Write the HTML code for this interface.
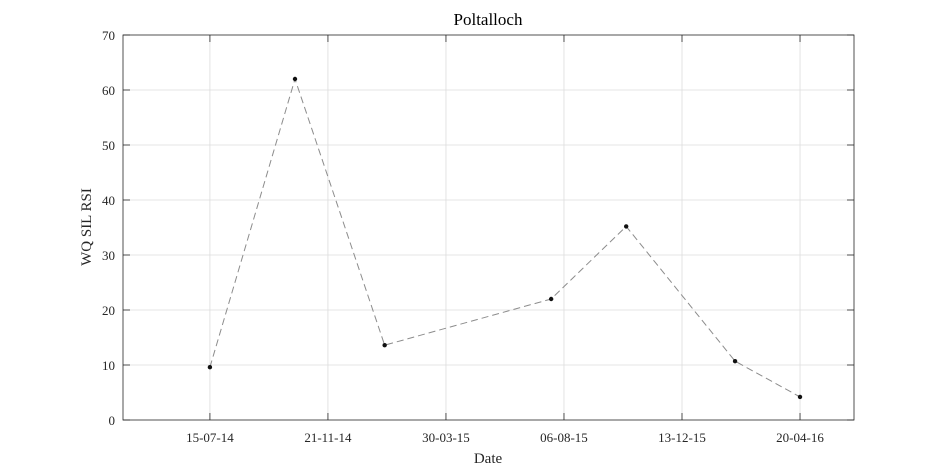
<!DOCTYPE html>
<html><head><meta charset="utf-8"><style>
html,body{margin:0;padding:0;background:#fff;}
svg{display:block;font-family:"Liberation Serif",serif;}
</style></head><body>
<svg id="chart" width="945" height="472">
<rect x="0" y="0" width="945" height="472" fill="#fff"/>
<g id="grid"></g>
<rect x="123" y="35" width="731" height="385" fill="none" stroke="#262626" stroke-width="0.8"/>
<g id="ticks"></g>
<g id="series"></g>
<text x="488" y="25" text-anchor="middle" font-size="17" fill="#000">Poltalloch</text>
<text x="488" y="463" text-anchor="middle" font-size="15" fill="#262626">Date</text>
<text transform="translate(91,227) rotate(-90)" text-anchor="middle" font-size="15" fill="#262626">WQ SIL RSI</text>
</svg>
<script>
const xTickDays = [0, 129, 258, 387, 516, 645];
const xTickLabels = ["15-07-14", "21-11-14", "30-03-15", "06-08-15", "13-12-15", "20-04-16"];
const yTicks = [0, 10, 20, 30, 40, 50, 60, 70];
const pointDays = [0, 93, 191, 373, 455, 574, 645];
const pointValues = [9.6, 62, 13.6, 22, 35.2, 10.7, 4.2];

const L = 123, R = 854, T = 35, B = 420;
const dMin = -95, dMax = 704, vMin = 0, vMax = 70;
const sx = d => L + (d - dMin) / (dMax - dMin) * (R - L);
const sy = v => B - (v - vMin) / (vMax - vMin) * (B - T);
const NS = "http://www.w3.org/2000/svg";
const mk = (tag, attrs, parent) => { const e = document.createElementNS(NS, tag); for (const k in attrs) e.setAttribute(k, attrs[k]); parent.appendChild(e); return e; };
const grid = document.getElementById('grid'), ticks = document.getElementById('ticks'), series = document.getElementById('series');

xTickDays.forEach((d, i) => {
  const x = sx(d);
  const g = mk('line', {x1: x, x2: x, y1: T, y2: B, stroke: '#dcdcdc', 'stroke-width': 0.8}, grid);
  
  
  mk('line', {x1: x, x2: x, y1: B, y2: B - 7, stroke: '#262626', 'stroke-width': 0.8}, ticks);
  mk('line', {x1: x, x2: x, y1: T, y2: T + 7, stroke: '#262626', 'stroke-width': 0.8}, ticks);
  const t = mk('text', {x: x, y: B + 22, 'text-anchor': 'middle', 'font-size': 13, fill: '#262626'}, ticks);
  t.textContent = xTickLabels[i];
  
  
});
yTicks.forEach(v => {
  const y = sy(v);
  if (v > 0 && v < 70) {
    const g = mk('line', {x1: L, x2: R, y1: y, y2: y, stroke: '#dcdcdc', 'stroke-width': 0.8}, grid);
    
    
  }
  mk('line', {x1: L, x2: L + 7, y1: y, y2: y, stroke: '#262626', 'stroke-width': 0.8}, ticks);
  mk('line', {x1: R, x2: R - 7, y1: y, y2: y, stroke: '#262626', 'stroke-width': 0.8}, ticks);
  const t = mk('text', {x: L - 8, y: y + 5, 'text-anchor': 'end', 'font-size': 13, fill: '#262626'}, ticks);
  t.textContent = v;
  
  
});
const pts = pointDays.map((d, i) => sx(d) + ',' + sy(pointValues[i])).join(' ');
const line = mk('polyline', {points: pts, fill: 'none', stroke: '#8c8c8c', 'stroke-width': 1, 'stroke-dasharray': '7,4'}, series);


pointDays.forEach((d, i) => {
  const c = mk('circle', {cx: sx(d), cy: sy(pointValues[i]), r: 2.2, fill: '#111'}, series);
  
  
});
</script>
</body></html>
